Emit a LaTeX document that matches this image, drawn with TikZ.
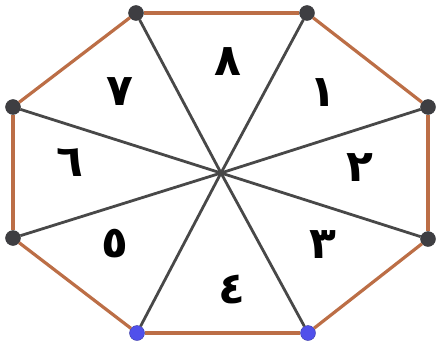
\documentclass[tikz,border=0pt]{standalone}
\usepackage{fontspec}
\newfontfamily\arabicfont[Script=Arabic]{DejaVu Sans}
\usetikzlibrary{positioning}
\definecolor{rimcol}{RGB}{188,110,70}
\definecolor{spokecol}{RGB}{72,72,72}
\definecolor{dotcol}{RGB}{62,62,66}
\definecolor{bluecol}{RGB}{80,80,235}
\tikzset{
  vx/.style={circle,fill=dotcol,draw=dotcol!80!black,minimum size=15pt,inner sep=0pt},
  bvx/.style={vx,fill=bluecol,draw=bluecol!70!black},
  re/.style={-,draw=rimcol,line width=3.2pt},
  se/.style={-,draw=spokecol,line width=2.8pt},
  num/.style={font=\arabicfont\bfseries\fontsize{44}{46}\selectfont,inner sep=0pt}
}

\begin{document}
\begin{tikzpicture}[x=1pt,y=-1pt]
  \useasboundingbox (0,0) rectangle (441,345);
  \coordinate (c) at (221,173);
  \node[vx](tl) at (136,13){};  \node[vx](tr) at (307,13){};
  \node[vx](rt) at (428,107){}; \node[vx](rb) at (428,239){};
  \node[bvx](br) at (308,333){}; \node[bvx](bl) at (137,333){};
  \node[vx](lb) at (13,238){};  \node[vx](lt) at (13,107){};
  \foreach \v in {tl,tr,rt,rb,br,bl,lb,lt}{\draw[se](\v)--(c);}
  \foreach \a/\b in {tl/tr,tr/rt,rt/rb,rb/br,br/bl,bl/lb,lb/lt,lt/tl}{\draw[re](\a)--(\b);}
  \node[num](n8) at (228,62){٨};
  \node[num](n1) at (323,93){١};
  \node[num](n2) at (360,168){٢};
  \node[num](n3) at (323,245){٣};
  \node[num](n4) at (232,290){٤};
  \node[num](n5) at (115,244){٥};
  \node[num](n6) at (70,163){٦};
  \node[num](n7) at (120,92){٧};
\end{tikzpicture}
\end{document}
